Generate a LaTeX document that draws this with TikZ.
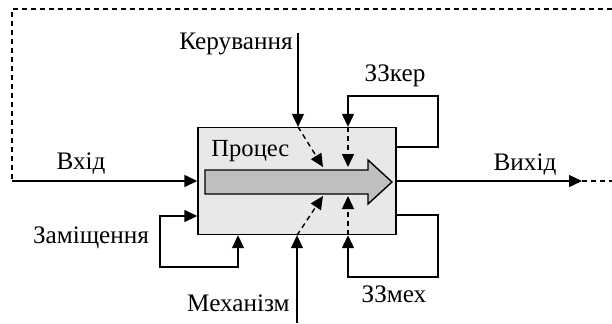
\documentclass[tikz,border=0pt]{standalone}
\usepackage{fontspec}
\setmainfont{Liberation Serif}
\usetikzlibrary{arrows.meta}

\begin{document}
\begin{tikzpicture}[
      x=0.5pt, y=-0.5pt,
      flowline/.style ={line width=0.7pt, -{Triangle[length=6.5pt,width=6pt]}},
      loopline/.style ={line width=0.7pt, {Triangle[length=6.5pt,width=6pt]}-{Triangle[length=6.5pt,width=6pt]}},
      dashline/.style ={line width=0.7pt, dash pattern=on 2.5pt off 2pt},
      procbox/.style  ={draw, line width=0.7pt, fill=gray!18, inner sep=0pt,
                        minimum width=99pt, minimum height=53.5pt},
      lbl/.style      ={font=\fontsize{12.6}{14}\selectfont, inner sep=0pt}]
    \useasboundingbox (0,0) rectangle (612,323);
    % process block and the wide arrow inside it
    \node[procbox] (proc) at (297,181) {};
    \filldraw[line width=0.7pt, fill=gray!50] (205,170) -- (368,170) -- (368,160) -- (392,182)
        -- (368,204) -- (368,194) -- (205,194) -- cycle;
    \node[lbl, font=\fontsize{12.3}{14}\selectfont, anchor=base west] (name) at (211,156) {Процес};
    % points the connectors pass through
    \coordinate (topL) at (12,9);
    \coordinate (topR) at (612,9);
    \coordinate (in) at (12,181);
    \coordinate (out) at (582,181);
    \coordinate (outR) at (612,181);
    \coordinate (ctrl) at (298,33);
    \coordinate (mech) at (297,323);
    \coordinate (ctrlin) at (323,167);
    \coordinate (mechin) at (323,196);
    \coordinate (zkin) at (348,167);
    \coordinate (zmin) at (348,196);
    \coordinate (zkr) at (438,96);
    \coordinate (zkl) at (348,96);
    \coordinate (zmr) at (438,277);
    \coordinate (zml) at (348,277);
    \coordinate (rpb) at (238,267);
    \coordinate (rpl) at (160,267);
    % input with feedback from the output
    \draw[dashline] (topR) -- (topL) -- (in);
    \draw[flowline] (in) -- (in -| proc.west);
    \draw[flowline] (proc.east |- out) -- (out);
    \draw[dashline] (out) -- (outR);
    % control and mechanism
    \draw[flowline] (ctrl) -- (ctrl |- proc.north);
    \draw[dashline,flowline] (ctrl |- proc.north) -- (ctrlin);
    \draw[flowline] (mech) -- (mech |- proc.south);
    \draw[dashline,flowline] (mech |- proc.south) -- (mechin);
    % feedback loops
    \draw[flowline] ([yshift=17pt]proc.east) -| (zkr) -- (zkl) -- (zkl |- proc.north);
    \draw[dashline,flowline] (zkl |- proc.north) -- (zkin);
    \draw[flowline] ([yshift=-17pt]proc.east) -| (zmr) -- (zml) -- (zml |- proc.south);
    \draw[dashline,flowline] (zml |- proc.south) -- (zmin);
    \draw[loopline] (rpb |- proc.south) -- (rpb) -- (rpl) |- ([yshift=-17.5pt]proc.west);
    % labels
    \node[lbl, anchor=base east] (ctrllbl) at (293,49) {Керування};
    \node[lbl, anchor=base] (zklbl) at (395,81) {ЗЗкер};
    \node[lbl, anchor=base] (inlbl) at (81,169) {Вхід};
    \node[lbl, anchor=base] (outlbl) at (525,170) {Вихід};
    \node[lbl, anchor=base] (rplbl) at (91,243) {Заміщення};
    \node[lbl, anchor=base] (zmlbl) at (394,302) {ЗЗмех};
    \node[lbl, anchor=base east] (mechlbl) at (290,311) {Механізм};
\end{tikzpicture}
\end{document}
